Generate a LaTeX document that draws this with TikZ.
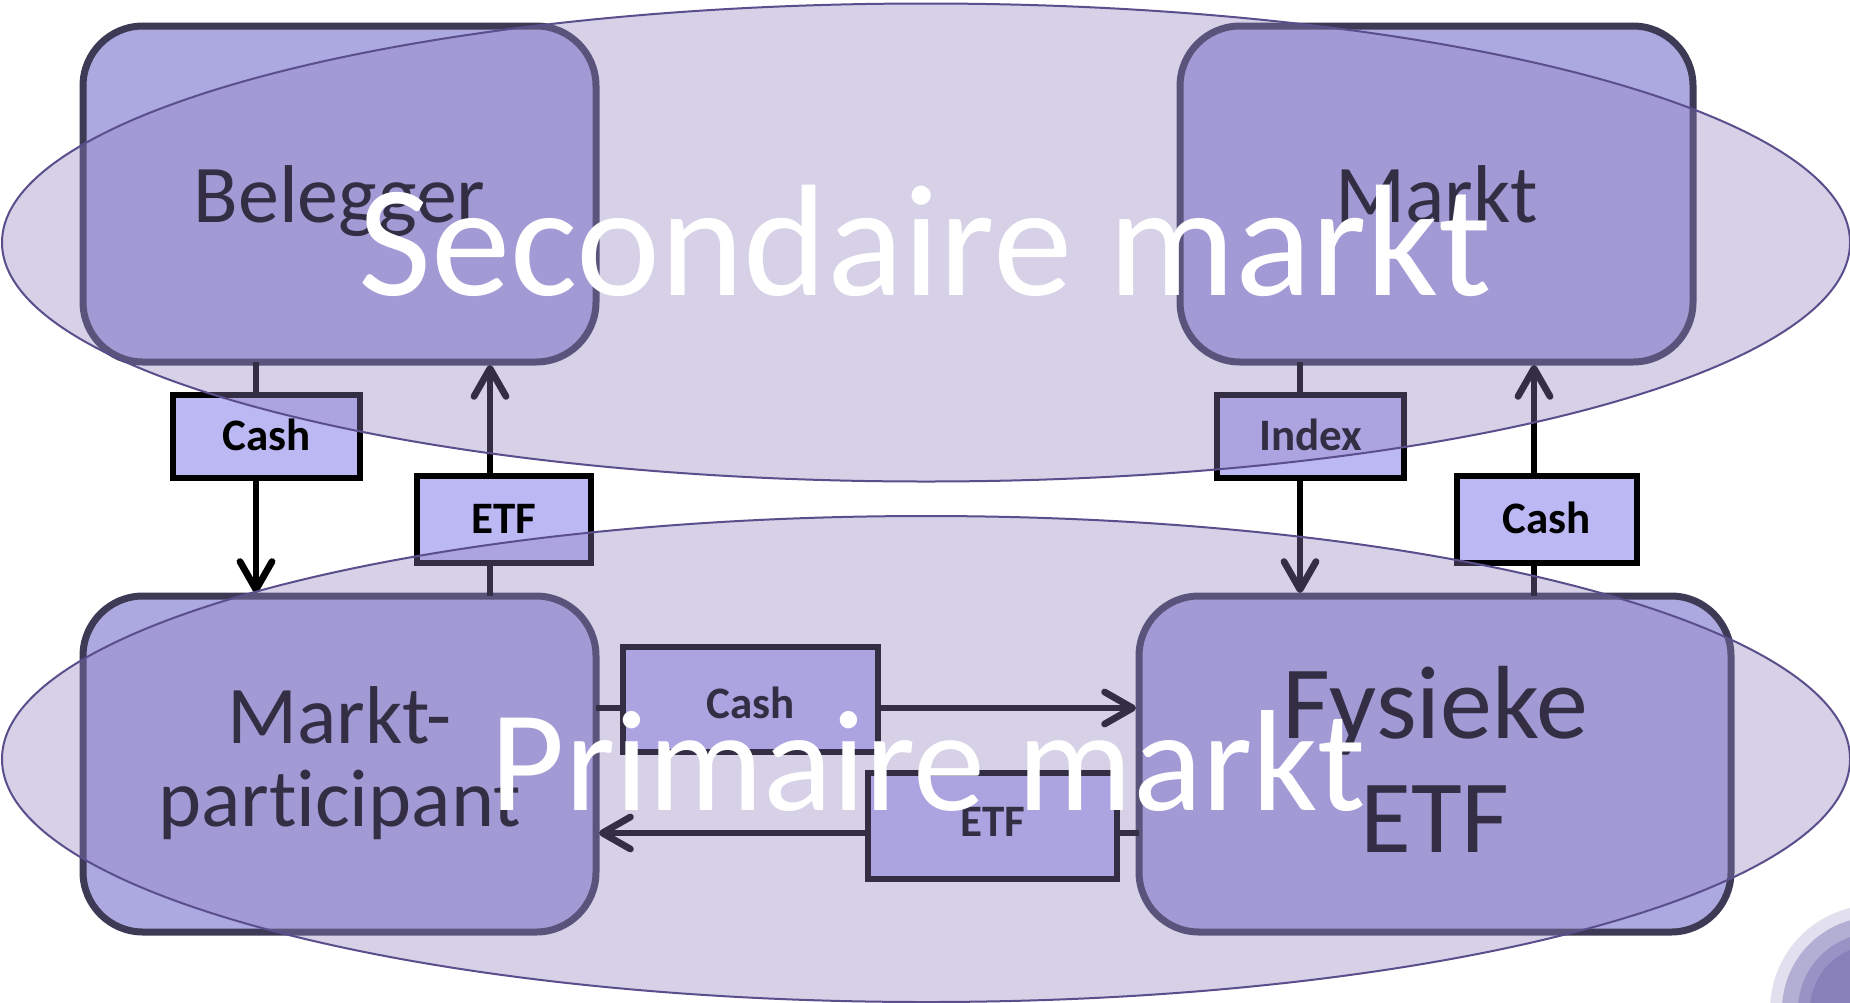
\documentclass[tikz,border=0pt]{standalone}
\usepackage{fontspec}
\setmainfont{Carlito}[Ligatures=NoCommon]
\usetikzlibrary{arrows.meta,calc}
\definecolor{boxfill}{HTML}{ABA9E0}
\definecolor{boxline}{HTML}{3D3A55}
\definecolor{labfill}{HTML}{BBB8F4}
\definecolor{ellfill}{RGB}{144,130,191}
\definecolor{ellline}{HTML}{5A4E8C}
\definecolor{dcA}{HTML}{E2E0EF}
\definecolor{dcB}{HTML}{B3AED4}
\definecolor{dcC}{HTML}{9992C5}
\definecolor{dcD}{HTML}{8880B8}
\begin{document}
\begin{tikzpicture}[x=0.5pt,y=-0.5pt,
  bigbox/.style={draw=boxline, fill=boxfill, line width=3.5pt, rounded corners=30pt,
    minimum height=168pt, inner sep=0pt, outer sep=0pt},
  bigtxt/.style={font=\fontsize{41}{41}\selectfont, text=black, inner sep=0pt, anchor=base},
  labbox/.style={draw=black, fill=labfill, line width=3.2pt,
    font=\bfseries\fontsize{22.5}{22.5}\selectfont, text height=14.4pt, text depth=0pt,
    inner sep=0pt, outer sep=0pt},
  flow/.style={draw=black, line width=3.4pt, shorten >=1.5pt,
    -{Straight Barb[length=14pt,width=16pt,line cap=round,line join=round]}},
  market/.style={fill=ellfill, fill opacity=0.36, draw=ellline, line width=1pt},
  mtxt/.style={text=white, inner sep=0pt, anchor=base}
]
\useasboundingbox (0,0) rectangle (1850,1002);
\fill[white] (0,0) rectangle (1850,1002);

% main boxes
\node[bigbox, minimum width=256.5pt] (bel) at (339.5,194) {};
\node[bigbox, minimum width=256.5pt] (mar) at (1436.5,194) {};
\node[bigbox, minimum width=256.5pt] (par) at (339.5,764) {};
\node[bigbox, minimum width=296pt]   (fys) at (1435,764) {};

\node[bigtxt] (belT)  at ($(bel.center)+(0,28)$) {Belegger};
\node[bigtxt] (marT)  at ($(mar.center)+(0,28)$) {Markt};
\node[bigtxt] (parT1) at ($(par.center)+(0,-21)$) {Markt-};
\node[bigtxt] (parT2) at ($(par.center)+(0,62)$) {participant};
\node[bigtxt, font=\fontsize{52}{52}\selectfont] (fysT1) at ($(fys.center)+(0,-26)$) {Fysieke};
\node[bigtxt, font=\fontsize{52}{52}\selectfont] (fysT2) at ($(fys.center)+(0,88)$) {ETF};

% connector positions
\coordinate (x1) at (256,0);
\coordinate (x2) at (490,0);
\coordinate (x3) at (1300,0);
\coordinate (x4) at (1534,0);
\coordinate (y1) at (0,708);
\coordinate (y2) at (0,833);

\draw[flow] (bel.south -| x1) -- (par.north -| x1);
\draw[flow] (par.north -| x2) -- (bel.south -| x2);
\draw[flow] (mar.south -| x3) -- (fys.north -| x3);
\draw[flow] (fys.north -| x4) -- (mar.south -| x4);
\draw[flow] (par.east |- y1) -- (fys.west |- y1);
\draw[flow] (fys.west |- y2) -- (par.east |- y2);

% flow labels
\node[labbox, minimum width=93.5pt, minimum height=41.5pt] (cashL) at (266.5,436.5) {Cash};
\node[labbox, minimum width=87pt,   minimum height=43.5pt] (etfL)  at (504,519.5) {ETF};
\node[labbox, minimum width=93.5pt, minimum height=41.5pt] (index) at (1310.5,436.5) {Index};
\node[labbox, minimum width=90pt,   minimum height=43.5pt] (cashR) at (1547,519.5) {Cash};
\node[labbox, minimum width=127.5pt, minimum height=52.5pt, text height=19pt] (cashM) at (750.5,699.5) {Cash};
\node[labbox, minimum width=124.5pt, minimum height=53pt, text height=10pt]  (etfM)  at (992.5,826) {ETF};

% market ellipses
\path[market] (926,242.5) ellipse [x radius=462pt, y radius=119.5pt];
\path[market] (926,759) ellipse [x radius=462pt, y radius=121.5pt];

\node[mtxt, font=\fontsize{79.5}{79.5}\selectfont] (sec) at (925,295) {Secondaire markt};
\node[mtxt, font=\fontsize{72}{72}\selectfont] (prim) at (928,810) {Primaire markt};

% corner decoration
\fill[dcA] (1875,1010) circle [radius=52.5pt];
\fill[dcB] (1875,1010) circle [radius=46.5pt];
\fill[dcC] (1875,1010) circle [radius=38.5pt];
\fill[dcD] (1875,1010) circle [radius=32.5pt];
\end{tikzpicture}
\end{document}
